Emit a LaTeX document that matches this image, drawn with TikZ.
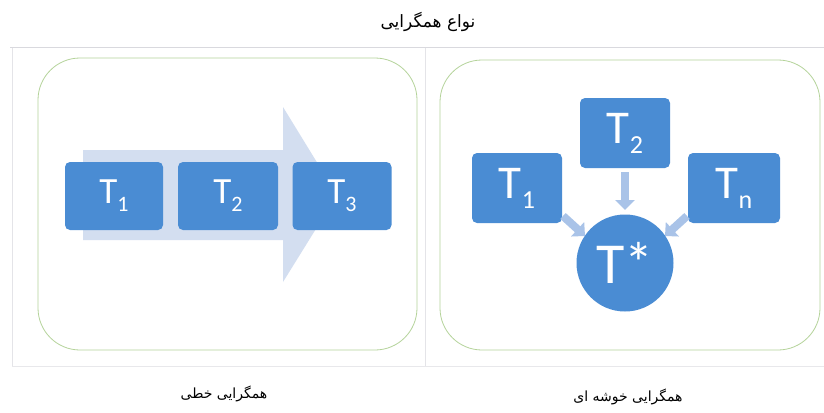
\documentclass[tikz,border=0pt]{standalone}
\usepackage{fontspec}
\setmainfont{Carlito}
\newfontfamily\arabicfont[Script=Arabic]{DejaVu Sans}
\TeXXeTstate=1
\usetikzlibrary{arrows.meta}
\definecolor{boxblue}{HTML}{4A8CD3}
\definecolor{paleblue}{HTML}{D3DEF0}
\definecolor{arrowblue}{HTML}{A9C3E8}
\definecolor{panelgreen}{HTML}{B5D39A}
\definecolor{framegray}{HTML}{D9D9DE}
% T with a lowered subscript: #1 size, #2 subscript size, #3 drop, #4 index
\newcommand{\tsub}[4]{{\fontsize{#1}{#1}\selectfont T%
  \raisebox{-#3}{\fontsize{#2}{#2}\selectfont #4}}}
\tikzset{
  tbox/.style={fill=boxblue, rounded corners=5pt, text=white, inner sep=0pt},
  panel/.style={draw=panelgreen, line width=0.8pt, rounded corners=42pt},
  caption/.style={font=\arabicfont\fontsize{14}{16}\selectfont, text=black},
  flowarrow/.style={draw=arrowblue, line width=8pt,
    -{Triangle[length=10pt,width=19pt]}},
}
\begin{document}
\begin{tikzpicture}[x=1pt,y=-1pt]
\useasboundingbox (0,0) rectangle (824,412);
\fill[white] (0,0) rectangle (824,412);

% outer frame of the two panels
\draw[framegray, line width=1pt] (10,48) -- (824,48);
\draw[framegray!70, line width=0.8pt] (12,48) -- (12,366);
\draw[framegray!70, line width=0.8pt] (425,48) -- (425,366);
\draw[framegray!60, line width=0.8pt] (12,366) -- (824,366);

% title
\node[caption, font=\arabicfont\fontsize{17}{19}\selectfont] (title)
  at (428,22) {\beginR نواع همگرایی\endR};

% left panel: linear convergence
\draw[panel] (38,58) rectangle (417,350);
\fill[paleblue] (83,150) -- (283,150) -- (283,107) -- (337,195)
  -- (283,282) -- (283,240) -- (83,240) -- cycle;
\node[tbox, minimum width=98pt, minimum height=68pt] (a1) at (114,196)
  {\tsub{37}{22}{8pt}{1}};
\node[tbox, minimum width=100pt, minimum height=68pt] (a2) at (228,196)
  {\tsub{37}{22}{8pt}{2}};
\node[tbox, minimum width=99pt, minimum height=68pt] (a3) at (342,196)
  {\tsub{37}{22}{8pt}{3}};
\node[caption] (capL) at (224,394) {\beginR همگرایی خطی\endR};

% right panel: cluster convergence
\draw[panel] (440,60) rectangle (820,350);
\node[circle, fill=boxblue, minimum size=97pt, inner sep=0pt] (ts) at (625,263) {};
\node[text=white, font=\fontsize{58}{60}\selectfont] (tsl) at (ts.center) {T*};
\node[tbox, minimum width=90pt, minimum height=70pt] (b2) at (625,133)
  {\tsub{47}{26}{10pt}{2}};
\node[tbox, minimum width=90pt, minimum height=70pt] (b1) at (517,188)
  {\tsub{47}{26}{10pt}{1}};
\node[tbox, minimum width=92pt, minimum height=70pt] (bn) at (734,188)
  {\tsub{47}{26}{10pt}{n}};

\coordinate (e2) at (625,172);
\coordinate (f2) at (625,210);
\coordinate (e1) at (563,216);
\coordinate (f1) at (585,236);
\coordinate (en) at (687,216);
\coordinate (fn) at (665,236);
\draw[flowarrow] (e2) -- (f2);
\draw[flowarrow] (e1) -- (f1);
\draw[flowarrow] (en) -- (fn);

\node[caption] (capR) at (628,397) {\beginR همگرایی خوشه ای\endR};
\end{tikzpicture}
\end{document}
